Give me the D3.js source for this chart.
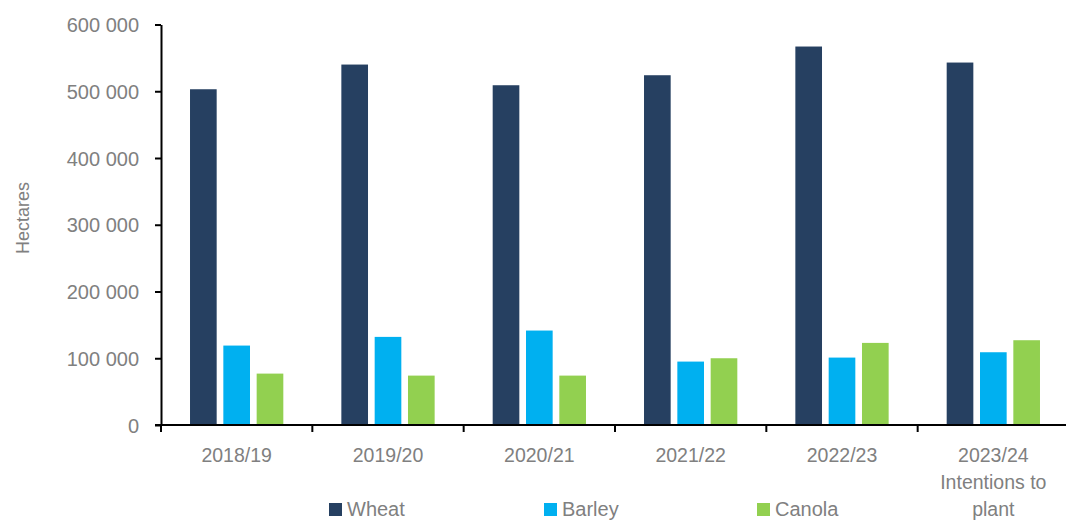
<!DOCTYPE html>
<html>
<head>
<meta charset="utf-8">
<script src="https://cdn.jsdelivr.net/npm/d3@7"></script>
<style>
  body { margin: 0; background: #fff; }
  text { font-family: "Liberation Sans", Arial, sans-serif; fill: #808080; }
</style>
</head>
<body>
<div id="chart"></div>
<script>
"use strict"

// Data
const seasons = ["2018/19", "2019/20", "2020/21", "2021/22", "2022/23", "2023/24\nIntentions to\nplant"];
const seriesNames = ["Wheat", "Barley", "Canola"];
const wheat  = [503000, 540000, 509000, 524000, 567000, 543000];
const barley = [119000, 132000, 141500, 95000, 101000, 109000];
const canola = [77000, 74000, 74000, 100000, 123000, 127000];
const colours = ["#264061", "#00b0f0", "#92d050"];
const yTicks = [0, 100000, 200000, 300000, 400000, 500000, 600000];

const figWidth = 1066;
const figHeight = 522;
const plot = {left: 161, right: 1069, top: 24.5, bottom: 425};

const svg = d3.select("#chart").append("svg")
  .attr("width", figWidth)
  .attr("height", figHeight);

const rows = seasons.map((s, i) => ({season: s, values: [wheat[i], barley[i], canola[i]]}));

// Scales
const x0 = d3.scaleBand()
  .domain(seasons)
  .range([plot.left, plot.right])
  .padding(0);

const x1 = d3.scaleBand()
  .domain(seriesNames)
  .range([x0.bandwidth()/2 - 46.65, x0.bandwidth()/2 + 46.65])
  .paddingInner(0.2)
  .paddingOuter(0);

const y = d3.scaleLinear()
  .domain([0, 600000])
  .range([plot.bottom, plot.top]);

const fmt = v => d3.format(",")(v).replace(/,/g, " ");

// Bars
const groups = svg.append("g")
  .attr("class", "bars")
  .selectAll("g")
  .data(rows)
  .enter().append("g")
    .attr("transform", d => `translate(${x0(d.season)},0)`);

groups.selectAll("rect")
  .data(d => d.values.map((v, j) => ({name: seriesNames[j], value: v, colour: colours[j]})))
  .enter().append("rect")
    .attr("x", d => x1(d.name))
    .attr("y", d => y(d.value))
    .attr("width", x1.bandwidth())
    .attr("height", d => y(0) - y(d.value))
    .attr("fill", d => d.colour);

// Y axis
const yAxis = svg.append("g")
  .attr("transform", `translate(${plot.left},0)`)
  .call(d3.axisLeft(y).tickValues(yTicks).tickFormat(fmt).tickSize(6).tickPadding(16).tickSizeOuter(0));

yAxis.select(".domain").attr("stroke", "#000").attr("stroke-width", 2);
yAxis.selectAll(".tick line").attr("stroke", "#000").attr("stroke-width", 2);
yAxis.selectAll(".tick text")
  .attr("fill", "#808080")
  .style("font-size", "20px")
  .attr("dy", "0.35em");

// X axis
const xAxis = svg.append("g")
  .attr("transform", `translate(0,${plot.bottom})`)
  .call(d3.axisBottom(x0).tickSize(0).tickFormat(""));

xAxis.select(".domain")
  .attr("d", `M${plot.left - 6},0H${figWidth}`)
  .attr("stroke", "#000").attr("stroke-width", 2);

// category separators
svg.append("g")
  .selectAll("line")
  .data(seasons)
  .enter().append("line")
    .attr("x1", d => x0(d))
    .attr("x2", d => x0(d))
    .attr("y1", plot.bottom)
    .attr("y2", plot.bottom + 7)
    .attr("stroke", "#000")
    .attr("stroke-width", 2);

// category labels (multi-line)
const labels = svg.append("g")
  .selectAll("text")
  .data(seasons)
  .enter().append("text")
    .attr("x", d => x0(d) + x0.bandwidth()/2)
    .attr("y", plot.bottom + 37)
    .style("text-anchor", "middle")
    .style("font-size", "19.5px");

labels.selectAll("tspan")
  .data(d => d.split("\n"))
  .enter().append("tspan")
    .attr("x", function() { return this.parentNode.getAttribute("x"); })
    .attr("dy", (d, i) => i === 0 ? 0 : 27)
    .text(d => d);

// Y title
svg.append("text")
  .attr("transform", "translate(29,218) rotate(-90)")
  .style("text-anchor", "middle")
  .style("font-size", "18px")
  .text("Hectares");

// Legend
const legendX = [329, 544, 757];
const legend = svg.append("g")
  .selectAll("g")
  .data(seriesNames)
  .enter().append("g")
    .attr("transform", (d, i) => `translate(${legendX[i]},0)`);

legend.append("rect")
  .attr("x", 0)
  .attr("y", 503)
  .attr("width", 13)
  .attr("height", 13)
  .attr("fill", (d, i) => colours[i]);

legend.append("text")
  .attr("x", 18)
  .attr("y", 516)
  .style("font-size", "20px")
  .text(d => d);
</script>
</body>
</html>
